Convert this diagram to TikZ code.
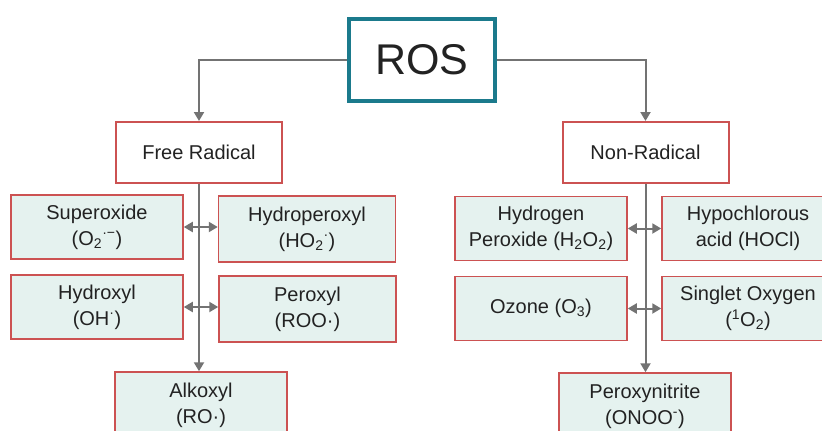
\documentclass[tikz,border=0pt]{standalone}
\usepackage{fontspec}
\setmainfont{Liberation Sans}
\usetikzlibrary{arrows.meta}
\definecolor{boxfill}{RGB}{229,242,239}
\definecolor{boxred}{RGB}{204,82,82}
\definecolor{rosteal}{RGB}{27,122,140}
\definecolor{conncol}{RGB}{115,115,115}
\definecolor{txtcol}{RGB}{34,34,34}
\begin{document}
\begin{tikzpicture}[x=1pt,y=-1pt,
  leaf/.style={draw=boxred, fill=boxfill, line width=1.5pt, minimum width=172pt, minimum height=64pt,
    align=center, font=\fontsize{20}{26}\selectfont, text=txtcol, inner sep=0pt},
  wideleaf/.style={leaf, minimum width=177pt, minimum height=66pt},
  catbox/.style={draw=boxred, fill=white, line width=2pt, minimum width=166pt, minimum height=61pt,
    font=\fontsize{20}{24}\selectfont, text=txtcol, inner sep=0pt},
  rootbox/.style={draw=rosteal, fill=white, line width=4pt, minimum width=146pt, minimum height=82pt,
    font=\fontsize{43}{48}\selectfont, text=txtcol, inner sep=0pt},
  conn/.style={draw=conncol, line width=2pt, -{Triangle[length=9pt,width=10pt]}},
  dbl/.style={draw=conncol, line width=2pt, {Triangle[length=9pt,width=10pt]}-{Triangle[length=9pt,width=10pt]}}]
\useasboundingbox (0,0) rectangle (822,431);
\clip (0,0) rectangle (822,431);

\node[rootbox] (ros) at (422,60) {ROS};
\node[catbox] (fr) at (199,152.5) {Free Radical};
\node[catbox] (nr) at (645.5,152.5) {Non-Radical};

\node[leaf] (sup) at (97,227) {Superoxide\\(O\textsubscript{2}\textsuperscript{·−})};
\node[wideleaf] (hyd) at (307,229) {Hydroperoxyl\\(HO\textsubscript{2}\textsuperscript{·})};
\node[leaf] (oh) at (97,307) {Hydroxyl\\(OH\textsuperscript{·})};
\node[wideleaf] (per) at (307.5,309) {Peroxyl\\(ROO·)};
\node[leaf, minimum height=66pt] (alk) at (201,405) {Alkoxyl\\(RO·)};

\node[leaf] (hp) at (541,228.5) {Hydrogen\\Peroxide (H\textsubscript{2}O\textsubscript{2})};
\node[leaf] (hocl) at (748,228.5) {Hypochlorous\\acid (HOCl)};
\node[leaf] (oz) at (541,308.5) {Ozone (O\textsubscript{3})};
\node[leaf] (so) at (748,308.5) {Singlet Oxygen\\(\textsuperscript{1}O\textsubscript{2})};
\node[leaf, minimum height=66pt] (pn) at (645,406) {Peroxynitrite\\(ONOO\textsuperscript{-})};

\draw[conn] (ros.west) -| (fr.north);
\draw[conn] (ros.east) -| (nr.north);
\draw[conn] (fr.south) -- (fr.south |- alk.north);
\draw[conn] (nr.south) -- (nr.south |- pn.north);

\draw[dbl] (sup.east) -- (sup.east -| hyd.west);
\draw[dbl] (oh.east) -- (oh.east -| per.west);
\draw[dbl] (hp.east) -- (hp.east -| hocl.west);
\draw[dbl] (oz.east) -- (oz.east -| so.west);
\end{tikzpicture}
\end{document}
